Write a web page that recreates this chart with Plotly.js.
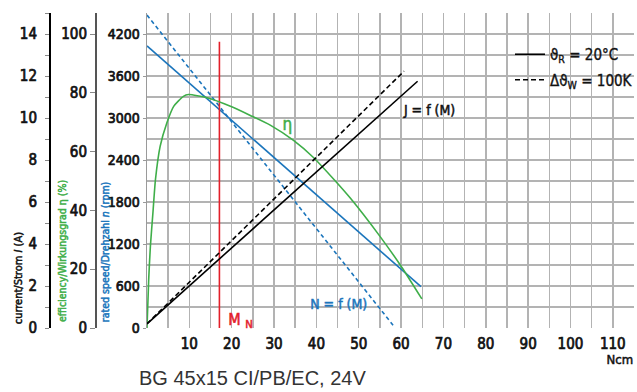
<!DOCTYPE html>
<html>
<head>
<meta charset="utf-8">
<script src="https://cdn.plot.ly/plotly-3.0.1.min.js"></script>
<style>
html,body{margin:0;padding:0;background:#fff;}
#chart{width:637px;height:392px;}
#chart svg text{font-stretch:condensed;}
#chart g.annotation[data-index="8"] text{font-stretch:normal !important;}
#chart g.xtick text, #chart g.ytick text, #chart g.y2tick text, #chart g.y3tick text{stroke:#111;stroke-width:0.7px;}
#chart g.legend text{stroke:#111;stroke-width:0.35px;}
#chart g.annotation[data-index="0"] text, #chart g.annotation[data-index="3"] text, #chart g.annotation[data-index="7"] text{stroke:#111;stroke-width:0.5px;}
#chart g.annotation[data-index="1"] text, #chart g.annotation[data-index="4"] text{stroke:#3fae49;stroke-width:0.5px;}
#chart g.annotation[data-index="2"] text, #chart g.annotation[data-index="5"] text{stroke:#1b75bc;stroke-width:0.5px;}
#chart g.annotation[data-index="6"] text{stroke:#e3202a;stroke-width:0.5px;}
</style>
</head>
<body>
<div id="chart"></div>
<script>
// ---- data ----
const speedSolidTorque = [0, 64.7];
const speedSolidRpm    = [4030, 590];
const speedDashTorque  = [0, 58.1];
const speedDashRpm     = [4470, 40];

const currentSolidTorque = [0, 63.9];
const currentSolidAmp    = [0.2, 11.75];
const currentDashTorque  = [0, 60.7];
const currentDashAmp     = [0.2, 12.23];

const effTorque = [0, 0.4, 0.8, 1.4, 2.0, 3.1, 4.7, 6.3, 8.6, 9.8, 14.2, 19.7, 24.4, 29.1, 34.6, 39.3, 44.1, 48.0, 55.1, 60.2, 64.9];
const effPct    = [0, 16.5, 27.8, 39.2, 50.5, 61.8, 69.8, 75.4, 78.8, 79.4, 78.3, 75.4, 72.3, 69.0, 63.8, 58.0, 50.6, 44.2, 31.0, 20.6, 9.9];

const ratedTorque = [17.1, 17.1];
const ratedRpm    = [0, 4090];

const xTickVals = [10, 20, 30, 40, 50, 60, 70, 80, 90, 100, 110];
const rpmTickVals = [0, 600, 1200, 1800, 2400, 3000, 3600, 4200];
const effTickVals = [0, 20, 40, 60, 80, 100];
const ampTickVals = [0, 2, 4, 6, 8, 10, 12, 14];

const legendSolid = "ϑ<sub>R</sub> = 20°C";
const legendDash  = "Δϑ<sub>W</sub> = 100K";
const chartTitle  = "BG 45x15 CI/PB/EC, 24V";

// ---- styles ----
const BLUE = '#1b75bc', GREEN = '#3fae49', RED = '#e3202a', GRID = '#b3b3b3';
const NARROW = '"Liberation Sans Narrow", "DejaVu Sans", sans-serif';
const tickFont = {family: NARROW, size: 15, color: '#111'};

const traces = [
  {x: speedSolidTorque, y: speedSolidRpm, mode: 'lines', line: {color: BLUE, width: 1.6}, showlegend: false, yaxis: 'y'},
  {x: speedDashTorque, y: speedDashRpm, mode: 'lines', line: {color: BLUE, width: 1.6, dash: '4px,3px'}, showlegend: false, yaxis: 'y'},
  {x: effTorque, y: effPct, mode: 'lines', line: {color: GREEN, width: 1.6, shape: 'spline', smoothing: 0.6}, showlegend: false, yaxis: 'y2'},
  {x: currentSolidTorque, y: currentSolidAmp, mode: 'lines', line: {color: '#000', width: 1.6}, name: legendSolid, legendgroup: 'a', showlegend: true, yaxis: 'y3'},
  {x: currentDashTorque, y: currentDashAmp, mode: 'lines', line: {color: '#000', width: 1.6, dash: '5px,3px'}, name: legendDash, legendgroup: 'b', showlegend: true, yaxis: 'y3'},
  {x: ratedTorque, y: ratedRpm, mode: 'lines', line: {color: RED, width: 1.6}, showlegend: false, yaxis: 'y'}
];

const PW = 634;
const px2paperY = py => (328 - py) / 315;

const layout = {
  width: 637, height: 392,
  margin: {l: 0, r: 3, t: 13, b: 64, autoexpand: false},
  paper_bgcolor: '#fff', plot_bgcolor: '#fff',
  showlegend: true,
  legend: {x: 510 / PW, xanchor: 'left', y: px2paperY(38), yanchor: 'top', bgcolor: 'rgba(0,0,0,0)',
           font: {family: NARROW, size: 15, color: '#111'}, traceorder: 'grouped', tracegroupgap: 3, itemwidth: 30},
  xaxis: {
    domain: [147 / PW, 1], range: [0, 115], tickmode: 'array', tickvals: xTickVals,
    showgrid: true, gridcolor: GRID, gridwidth: 1.5, zeroline: false, showline: false,
    ticks: '', tickfont: tickFont, ticklabelstandoff: 5,
    minor: {dtick: 5, tick0: 0, showgrid: true, gridcolor: GRID, gridwidth: 1.5}
  },
  yaxis: {
    range: [0, 4500], tickmode: 'array', tickvals: rpmTickVals, anchor: 'x', side: 'left',
    showgrid: true, gridcolor: GRID, gridwidth: 1.5, zeroline: false,
    showline: true, linecolor: '#9a9a9a', linewidth: 1.5,
    ticks: 'outside', ticklen: 3, tickcolor: '#9a9a9a', tickfont: {family: NARROW, size: 14, color: '#111'},
    minor: {dtick: 300, tick0: 0, showgrid: true, gridcolor: GRID, gridwidth: 1.5}
  },
  yaxis2: {
    overlaying: 'y', anchor: 'free', position: 95 / PW, side: 'left',
    range: [0, 4500 / 42], tickmode: 'array', tickvals: effTickVals,
    showgrid: false, zeroline: false, showline: true, linecolor: '#555', linewidth: 1.5,
    ticks: 'outside', ticklen: 5, tickcolor: '#888', tickfont: tickFont
  },
  yaxis3: {
    overlaying: 'y', anchor: 'free', position: 49 / PW, side: 'left',
    range: [0, 15], tickmode: 'array', tickvals: ampTickVals,
    showgrid: false, zeroline: false, showline: true, linecolor: '#000', linewidth: 1.5,
    ticks: 'outside', ticklen: 4, tickcolor: '#888', tickfont: tickFont, ticklabelstandoff: 5,
    minor: {dtick: 1, tick0: 0, ticks: 'outside', ticklen: 4, tickcolor: '#888'}
  },
  annotations: [
    {xref: 'paper', yref: 'paper', x: 18 / PW, y: px2paperY(332), xanchor: 'center', yanchor: 'bottom', textangle: -90,
     text: 'current/Strom <i>I</i> (A)', showarrow: false, font: {family: NARROW, size: 11, color: '#111'}},
    {xref: 'paper', yref: 'paper', x: 62 / PW, y: px2paperY(332), xanchor: 'center', yanchor: 'bottom', textangle: -90,
     text: 'efficiency/Wirkungsgrad η (%)', showarrow: false, font: {family: NARROW, size: 10.5, color: GREEN}},
    {xref: 'paper', yref: 'paper', x: 105 / PW, y: px2paperY(332), xanchor: 'center', yanchor: 'bottom', textangle: -90,
     text: 'rated speed/Drehzahl <i>n</i> (rpm)', showarrow: false, font: {family: NARROW, size: 10.5, color: BLUE}},
    {xref: 'x', yref: 'y', x: 59.3, y: 3121, xanchor: 'left', yanchor: 'middle', text: 'J = f (M)', showarrow: false,
     font: {family: NARROW, size: 14, color: '#111'}},
    {xref: 'x', yref: 'y', x: 33.1, y: 2920, xanchor: 'center', yanchor: 'middle', text: 'η', showarrow: false,
     font: {family: NARROW, size: 17, color: GREEN}},
    {xref: 'x', yref: 'y', x: 45.4, y: 336, xanchor: 'center', yanchor: 'middle', text: 'N = f (M)', showarrow: false,
     font: {family: NARROW, size: 14, color: BLUE}},
    {xref: 'x', yref: 'y', x: 18.4, y: 110, xanchor: 'left', yanchor: 'middle', text: 'M <sub>N</sub>', showarrow: false,
     font: {family: NARROW, size: 16, color: RED}},
    {xref: 'paper', yref: 'paper', x: 1, xshift: 3, y: px2paperY(359), xanchor: 'right', yanchor: 'middle', text: 'Ncm', showarrow: false,
     font: {family: NARROW, size: 13, color: '#111'}},
    {xref: 'paper', yref: 'paper', x: 137 / PW, y: px2paperY(378), xanchor: 'left', yanchor: 'middle', text: chartTitle, showarrow: false,
     font: {family: '"Liberation Sans", Arial, sans-serif', size: 20, color: '#333'}}
  ]
};

Plotly.newPlot('chart', traces, layout, {displayModeBar: false, staticPlot: true});
</script>
</body>
</html>
